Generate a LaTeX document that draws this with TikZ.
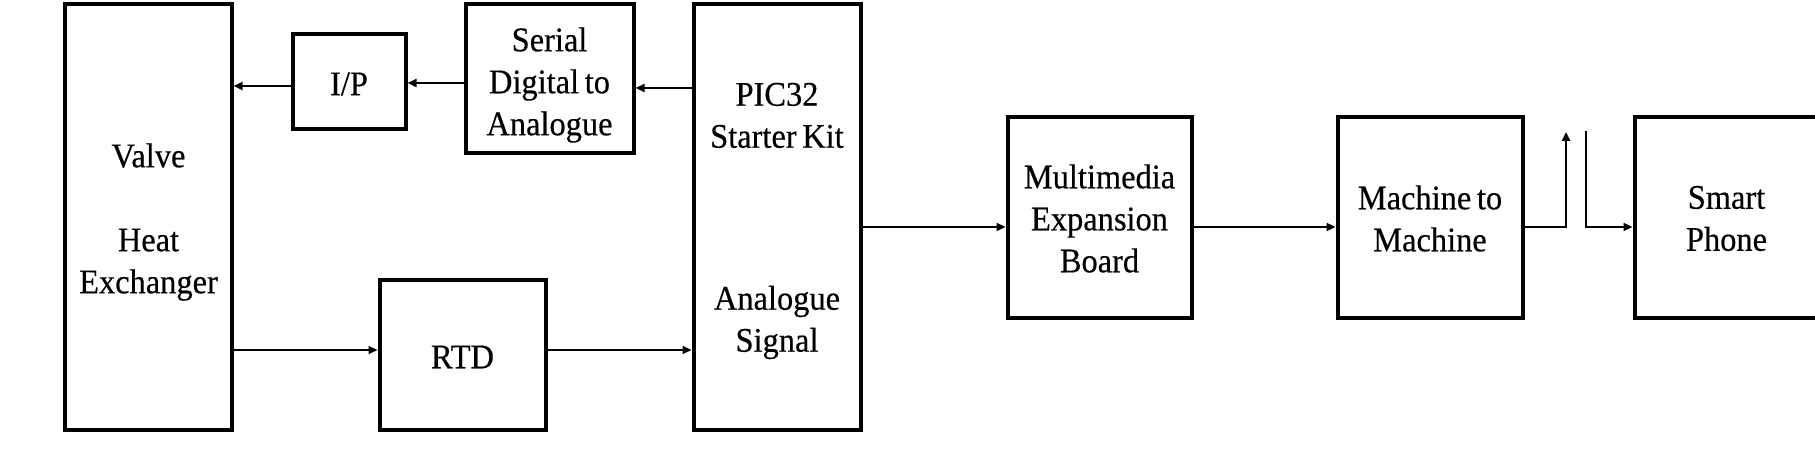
\documentclass[tikz,border=0pt]{standalone}
\usepackage{fontspec}
\setmainfont[FakeStretch=0.94,FakeBold=0.4,WordSpace=0.7]{Liberation Serif}
\usetikzlibrary{arrows.meta}
\begin{document}
\begin{tikzpicture}[x=1bp,y=-1bp,
  blk/.style={draw=black,line width=4bp,inner sep=0pt},
  txt/.style={align=center,inner sep=0pt,
    font=\fontsize{34.5bp}{42bp}\selectfont},
  arr/.style={line width=2.2bp,-{Triangle[length=9bp,width=8bp]}}]
\useasboundingbox (0,0) rectangle (1815,455);
\node[blk,minimum width=166bp,minimum height=425bp] (valve) at (148.5,217) {};
\node[blk,minimum width=113bp,minimum height=95bp] (ip) at (349,82) {};
\node[blk,minimum width=168bp,minimum height=149bp] (serial) at (549.5,79) {};
\node[blk,minimum width=167bp,minimum height=425bp] (pic) at (777,217) {};
\node[blk,minimum width=166bp,minimum height=149bp] (rtd) at (462.5,355) {};
\node[blk,minimum width=184bp,minimum height=200bp] (mm) at (1099.5,217.5) {};
\node[blk,minimum width=185bp,minimum height=200bp] (m2m) at (1430,217.5) {};
\node[blk,minimum width=184bp,minimum height=200bp] (phone) at (1726.5,217.5) {};
% texts
\node[txt] (tvalve) at ([yshift=-5bp]valve.center) {Valve\\[42bp]Heat\\Exchanger};
\node[txt] (tip) at ([yshift=-2bp]ip.center) {I/P};
\node[txt] (tserial) at ([yshift=-6bp]serial.center) {Serial\\Digital to\\Analogue};
\node[txt] (tpic) at ([yshift=-4bp]pic.center) {PIC32\\Starter Kit\\[120bp]Analogue\\Signal};
\node[txt] (trtd) at ([yshift=-2bp]rtd.center) {RTD};
\node[txt] (tmm) at ([yshift=-1bp]mm.center) {Multimedia\\Expansion\\Board};
\node[txt] (tm2m) at ([yshift=-1bp]m2m.center) {Machine to\\Machine};
\node[txt] (tphone) at ([yshift=-1bp]phone.center) {Smart\\Phone};
% connectors
\coordinate (p1) at ([yshift=-9bp]serial.east);
\draw[arr] (pic.west |- p1) -- (p1);
\coordinate (p2) at ([yshift=-1bp]ip.east);
\draw[arr] (serial.west |- p2) -- (p2);
\coordinate (p3) at ([yshift=-4bp]ip.west);
\draw[arr] (p3) -- (p3 -| valve.east);
\coordinate (p4) at ([yshift=5bp]rtd.west);
\draw[arr] (valve.east |- p4) -- (p4);
\coordinate (p5) at ([yshift=5bp]rtd.east);
\draw[arr] (p5) -- (p5 -| pic.west);
\coordinate (p6) at ([yshift=-9.5bp]mm.west);
\draw[arr] (pic.east |- p6) -- (p6);
\coordinate (p7) at ([yshift=-9.5bp]mm.east);
\draw[arr] (p7) -- (p7 -| m2m.west);
\coordinate (up) at (1566,132);
\draw[arr] (m2m.east |- p7) -| (up);
\coordinate (dn) at (1586,131);
\draw[arr] (dn) |- (phone.west |- p7);
\end{tikzpicture}
\end{document}
